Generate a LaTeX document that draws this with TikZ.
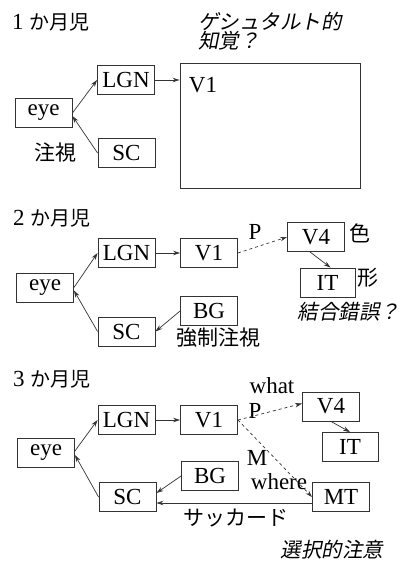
\documentclass[tikz,border=0pt]{standalone}
\usepackage{fontspec}
\setmainfont{Liberation Serif}
\newfontfamily\jp{Noto Sans CJK JP}
\newfontfamily\jpit{Noto Sans CJK JP}[FakeSlant=0.2]
\usetikzlibrary{arrows.meta,positioning,calc}
\definecolor{clinea}{HTML}{333333}
\tikzset{
  caja/.style={draw=clinea,line width=0.9pt,minimum width=57pt,minimum height=29pt,
               inner sep=0pt,font=\fontsize{23}{26}\selectfont},
  flecha/.style={-{Stealth[length=7pt,width=4.5pt]},draw=clinea,line width=0.7pt},
  flechad/.style={flecha,dash pattern=on 3pt off 3pt},
  et/.style={font=\fontsize{23}{26}\selectfont,inner sep=0pt},
  etj/.style={font=\fontsize{21}{24}\selectfont\jp,inner sep=0pt},
  etji/.style={font=\fontsize{20.5}{19.5}\selectfont\jpit,inner sep=0pt,align=left},
}
\begin{document}
\begin{tikzpicture}[x=1pt,y=-1pt]
\useasboundingbox (0,0) rectangle (411,564);

% ---------------- 1か月児 ----------------
\node[et,anchor=west] (t1) at (12,22) {1 {\jp\fontsize{20}{24}\selectfont か月児}};
\node[etji,anchor=west] (gest) at (198,31) {ゲシュタルト的\\知覚？};

\node[caja] (eye1) at (43.5,113) {eye};
\node[caja] (lgn1) at (126,80)   {LGN};
\node[caja] (sc1)  at (126.5,153) {SC};
\node[caja,minimum width=180pt,minimum height=125pt] (v1a) at (270,125.5) {};
\node[et] (v1al) at (203,85) {V1};
\node[etj] (fij1) at (55,152) {注視};

\draw[flecha] (eye1.east) -- (lgn1.west);
\draw[flecha] (sc1.west) -- ([yshift=-3pt]eye1.east);
\draw[flecha] (lgn1.east) -- (lgn1.east -| v1a.west);

% ---------------- 2か月児 ----------------
\node[et,anchor=west] (t2) at (13,218) {2 {\jp\fontsize{20}{24}\selectfont か月児}};

\node[caja] (eye2) at (45,287.5) {eye};
\node[caja] (lgn2) at (126.5,253) {LGN};
\node[caja] (v12)  at (209,253)   {V1};
\node[caja] (v42)  at (316,237)   {V4};
\node[caja,minimum width=55pt] (it2) at (327.5,282.5) {IT};
\node[caja] (bg2)  at (209,311)   {BG};
\node[caja] (sc2)  at (126.5,331.5) {SC};

\node[et]   (p2)   at (255,232) {P};
\node[etj]  (col2) at (360,233) {色};
\node[etj]  (for2) at (368,278) {形};
\node[etji] (err2) at (349,312) {結合錯誤？};
\node[etj]  (fij2) at (218,338) {強制注視};

\draw[flecha] (eye2.east) -- (lgn2.west);
\draw[flecha] (sc2.west) -- ([yshift=-3pt]eye2.east);
\draw[flecha] (lgn2) -- (v12);
\draw[flechad] (v12.east) -- (v42.west);
\draw[flecha] ([xshift=-6pt]v42.south) -- ([xshift=3pt]it2.north);
\draw[flecha] (bg2.west) -- (sc2.east);

% ---------------- 3か月児 ----------------
\node[et,anchor=west] (t3) at (13,379) {3 {\jp\fontsize{20}{24}\selectfont か月児}};

\node[caja] (eye3) at (46,453)    {eye};
\node[caja] (lgn3) at (126.5,420) {LGN};
\node[caja] (v13)  at (209,420)   {V1};
\node[caja] (v43)  at (331,406.5) {V4};
\node[caja,minimum width=56pt] (it3) at (350,447) {IT};
\node[caja] (bg3)  at (210,476)   {BG};
\node[caja] (sc3)  at (127.5,497) {SC};
\node[caja] (mt3)  at (341,497)   {MT};

\node[et]  (what3)  at (272,386) {what};
\node[et]  (p3)     at (255,411) {P};
\node[et]  (m3)     at (257,458) {M};
\node[et]  (where3) at (279,482) {where};
\node[etj] (sac3)   at (236,518) {サッカード};
\node[etji] (sel3)  at (332,550) {選択的注意};

\draw[flecha] ([yshift=2pt]eye3.east) -- (lgn3.west);
\draw[flecha] (sc3.west) -- ([yshift=-2pt]eye3.east);
\draw[flecha] (lgn3) -- (v13);
\draw[flechad] (v13.east) -- ([yshift=3pt]v43.west);
\draw[flechad] (v13.east) -- (mt3.west);
\draw[flecha] (v43.south) -- (it3.north);
\draw[flecha] (bg3.west) -- ([yshift=4pt]sc3.east);
\draw[flecha] ([yshift=-6pt]mt3.west) -- ([yshift=-6pt]sc3.east);

\end{tikzpicture}
\end{document}
